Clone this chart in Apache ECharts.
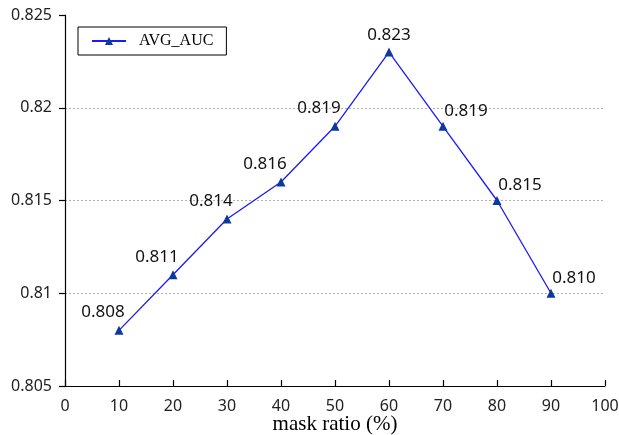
<!DOCTYPE html>
<html><head><meta charset="utf-8">
<script src="https://cdn.jsdelivr.net/npm/echarts@6/dist/echarts.min.js"></script>
<style>html,body{margin:0;padding:0;background:#fff}#c{width:619px;height:435px}</style>
</head><body><div id="c"></div>
<script>
const maskRatio = [10, 20, 30, 40, 50, 60, 70, 80, 90];
const avgAuc = [0.808, 0.811, 0.814, 0.816, 0.819, 0.823, 0.819, 0.815, 0.810];
const seriesName = 'AVG_AUC';

const chart = echarts.init(document.getElementById('c'));
const data = maskRatio.map((x, i) => {
  const off = x < 60 ? [-16, -18] : (x > 60 ? [23, -15] : [0, -17]);
  return { value: [x, avgAuc[i]], label: { offset: off } };
});
chart.setOption({
  animation: false,
  grid: { left: 65, right: 14, top: 15, bottom: 49, containLabel: false, outerBoundsMode: 'none' },
  legend: {
    left: 78, top: 27, orient: 'horizontal',
    borderColor: '#000', borderWidth: 1, borderRadius: 0,
    padding: [6, 13, 6, 13],
    itemWidth: 34, itemHeight: 10, itemGap: 8,
    textStyle: { fontFamily: 'Liberation Serif', fontSize: 16, color: '#000', padding: [0, 0, 0, 8] },
    data: [seriesName]
  },
  xAxis: {
    type: 'value', min: 0, max: 100, interval: 10,
    name: 'mask ratio (%)', nameLocation: 'middle', nameGap: 28, nameMoveOverlap: false,
    nameTextStyle: { fontFamily: 'Liberation Serif', fontSize: 21, color: '#000' },
    axisLine: { lineStyle: { color: '#000', width: 1.2 } },
    axisTick: { inside: true, length: 6, lineStyle: { color: '#000', width: 1.2 } },
    axisLabel: { fontFamily: 'Noto Sans', fontSize: 16, color: '#222', margin: 12 },
    splitLine: { show: false }
  },
  yAxis: {
    type: 'value', min: 0.805, max: 0.825, interval: 0.005,
    axisLine: { show: true, lineStyle: { color: '#000', width: 1.2 } },
    axisTick: { show: true, inside: false, length: 6, lineStyle: { color: '#000', width: 1.2 } },
    axisLabel: { fontFamily: 'Noto Sans', fontSize: 16, color: '#222', margin: 13 },
    splitLine: { show: true, lineStyle: { type: [2, 2], width: 1,
      color: ['transparent', '#b0b0b0', '#b0b0b0', '#b0b0b0', 'transparent'] } }
  },
  series: [{
    name: seriesName, type: 'line', data: data,
    symbol: 'triangle', symbolSize: 9,
    lineStyle: { color: '#1a1aff', width: 1.3 },
    itemStyle: { color: '#0c3a9c' },
    label: { show: true, position: 'inside',
      fontFamily: 'Noto Sans', fontSize: 17, color: '#111',
      formatter: p => p.value[1].toFixed(3) }
  }]
});
</script></body></html>
